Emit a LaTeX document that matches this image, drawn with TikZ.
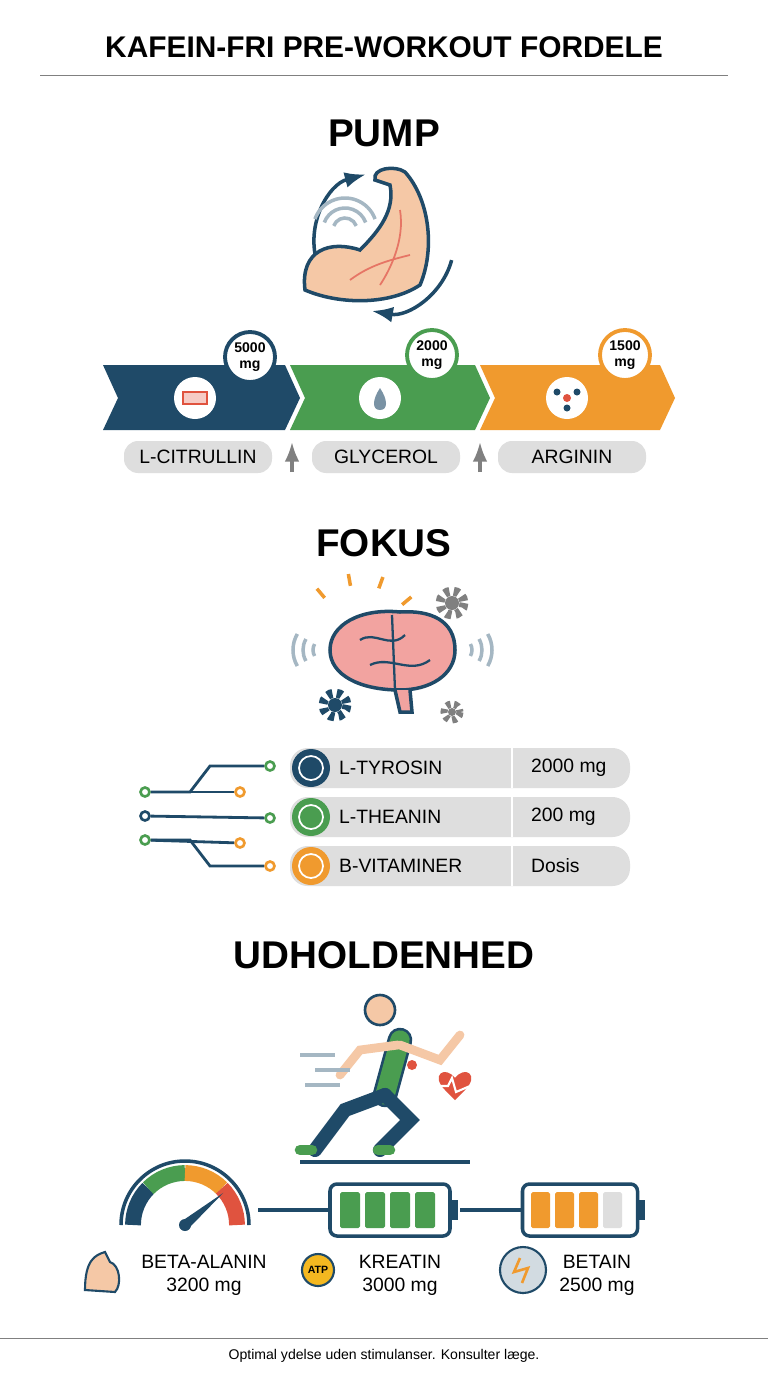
\documentclass[tikz,border=0pt]{standalone}
\usepackage{fontspec}
\setmainfont{Liberation Sans}
\usetikzlibrary{positioning,arrows.meta,calc}
\definecolor{navy}{HTML}{1F4A68}
\definecolor{leaf}{HTML}{4A9D50}
\definecolor{amber}{HTML}{F09A2E}
\definecolor{pill}{HTML}{DEDEDE}
\definecolor{skin}{HTML}{F5C8A6}
\definecolor{brainpink}{HTML}{F2A3A0}
\definecolor{alert}{HTML}{E0533F}
\newcommand{\px}{*0.02cm}
\tikzset{
  heading/.style = {font=\bfseries\fontsize{22}{24}\selectfont},
  tag/.style = {fill=pill, rounded corners=8pt, minimum width=148\px, minimum height=32\px, font=\fontsize{11}{12}\selectfont},
  badge/.style = {circle, draw=#1, line width=2.2pt, fill=white, minimum size=50\px, align=center, inner sep=0pt, font=\bfseries\fontsize{8}{9}\selectfont},
  dot/.style = {circle, draw=#1, line width=1.5pt, fill=white, minimum size=9\px, inner sep=0pt},
  wire/.style = {navy, line width=1.6pt},
  cell/.style = {fill=#1, rounded corners=1pt},
  >=Latex
}
\begin{document}
\begin{tikzpicture}[x=0.02cm,y=-0.02cm]
  \useasboundingbox[fill=white] (0,0) rectangle (768,1376);
  % title
  \node[font=\bfseries\fontsize{17}{19}\selectfont] (title) at (384,47) {KAFEIN-FRI PRE-WORKOUT FORDELE};
  \draw[gray] (40,75) -- (728,75);
  % pump
  \node[heading] (pump) at (384,133) {PUMP};
  \draw[navy,line width=2pt,->] (384,242) ++(-195:70) arc (-195:-105:70);
  \draw[navy,line width=2pt,->] (384,242) ++(15:70) arc (15:100:70);
  \foreach \r in {12,22,32} {\draw[navy!40,line width=2pt] (345,230) ++(200:\r) arc (200:340:\r);}
  \draw[navy,line width=2pt,fill=skin] (305,290) .. controls (300,250) and (330,240) .. (360,250)
    .. controls (380,230) and (395,210) .. (390,185) -- (375,180) .. controls (372,168) and (395,165) .. (405,172)
    .. controls (430,200) and (435,250) .. (420,285) .. controls (390,305) and (340,305) .. (305,290) -- cycle;
  \draw[alert!80,line width=1pt] (350,280) .. controls (370,265) and (390,260) .. (410,255) (380,285) .. controls (390,270) and (405,240) .. (400,210);
  % chevrons
  \fill[navy] (103,365) -- (285,365) -- (300,398) -- (285,430) -- (103,430) -- (118,398) -- cycle;
  \fill[leaf] (290,365) -- (475,365) -- (490,398) -- (475,430) -- (290,430) -- (305,398) -- cycle;
  \fill[amber] (480,365) -- (660,365) -- (675,398) -- (660,430) -- (480,430) -- (495,398) -- cycle;
  \node[circle,fill=white,minimum size=42\px] (ic1) at (195,398) {};
  \node[circle,fill=white,minimum size=42\px] (ic2) at (380,398) {};
  \node[circle,fill=white,minimum size=42\px] (ic3) at (567,398) {};
  \draw[alert,line width=1.2pt,fill=alert!30] (183,392) rectangle (207,404);
  \fill[navy!60] (380,388) .. controls (372,400) and (372,410) .. (380,410) .. controls (388,410) and (388,400) .. (380,388);
  \foreach \p in {(557,392),(577,392),(567,408)} {\fill[navy] \p circle (3.5);}
  \fill[alert] (567,398) circle (4);
  \node[badge=navy] (b1) at (250,357) {5000\\mg};
  \node[badge=leaf] (b2) at (432,355) {2000\\mg};
  \node[badge=amber] (b3) at (625,355) {1500\\mg};
  \node[tag] (citrullin) at (198,457) {L-CITRULLIN};
  \node[tag] (glycerol) at (386,457) {GLYCEROL};
  \node[tag] (arginin) at (572,457) {ARGININ};
  \coordinate (up1) at (292,472); \coordinate (up2) at (480,472);
  \draw[gray,line width=1.8pt,->] (up1) -- ++(0,-30);
  \draw[gray,line width=1.8pt,->] (up2) -- ++(0,-30);
  % fokus
  \node[heading] (fokus) at (384,543) {FOKUS};
  \draw[navy,line width=2pt,fill=brainpink] (400,690) .. controls (430,690) and (455,675) .. (455,650)
    .. controls (455,620) and (430,610) .. (400,612) .. controls (360,608) and (330,625) .. (330,650)
    .. controls (330,675) and (360,690) .. (400,690) -- cycle;
  \draw[navy,line width=2pt,fill=brainpink] (395,690) -- (400,712) -- (412,712) -- (410,690);
  \draw[navy,line width=1.3pt] (360,640) .. controls (375,630) and (390,650) .. (405,635) (370,665) .. controls (390,655) and (410,675) .. (430,660) (392,615) -- (395,690);
  \foreach \a in {-40,-70,-100,-130} {\draw[amber,line width=2pt] (360,640) ++(\a:55) -- ++(\a:12);}
  \foreach \r in {12,22,32} {\draw[navy!40,line width=2pt] (325,650) ++(150:\r) arc (150:210:\r); \draw[navy!40,line width=2pt] (460,650) ++(-30:\r) arc (-30:30:\r);}
  \draw[gray,line width=5pt,dash pattern=on 3pt off 2.5pt] (452,603) circle (12); \fill[gray] (452,603) circle (7);
  \draw[navy,line width=5pt,dash pattern=on 3pt off 2.5pt] (335,705) circle (12); \fill[navy] (335,705) circle (7);
  \draw[gray,line width=4pt,dash pattern=on 2.5pt off 2pt] (452,712) circle (8); \fill[gray] (452,712) circle (4);
  % rows
  \foreach \y/\n/\v/\c [count=\i] in {768/L-TYROSIN/2000 mg/navy,817/L-THEANIN/200 mg/leaf,866/B-VITAMINER/Dosis/amber} {
    \fill[pill,rounded corners=10pt] (290,\y-20) rectangle (630,\y+20);
    \draw[white,line width=1.5pt] (512,\y-20) -- (512,\y+20);
    \node[circle,fill=\c,minimum size=38\px] (row\i) at (311,\y) {};
    \draw[white,line width=1pt] (row\i) circle (12);
    \node[anchor=west,font=\fontsize{11}{12}\selectfont] (lab\i) at (333,\y) {\n};
    \node[anchor=west,font=\fontsize{11}{12}\selectfont] (val\i) at (525,\y) {\v};
  }
  \node[dot=leaf] (d1) at (270,766) {};
  \node[dot=amber] (d2) at (240,792) {};
  \node[dot=leaf] (d3) at (270,818) {};
  \node[dot=amber] (d4) at (240,843) {};
  \node[dot=amber] (d5) at (270,866) {};
  \node[dot=leaf] (e1) at (145,792) {};
  \node[dot=navy] (e2) at (145,816) {};
  \node[dot=leaf] (e3) at (145,840) {};
  \draw[wire] (e1) -- (190,792) -- (210,766) -- (d1);
  \draw[wire] (e1) -- (d2);
  \draw[wire] (e2) -- (d3);
  \draw[wire] (e3) -- (d4);
  \draw[wire] (e3) -- (190,840) -- (210,866) -- (d5);
  % udholdenhed
  \node[heading] (udhold) at (384,955) {UDHOLDENHED};
  \fill[skin] (380,1010) circle (15);
  \draw[navy,line width=1.5pt] (380,1010) circle (15);
  \draw[navy,line width=14pt,line cap=round] (400,1040) -- (385,1095);
  \draw[leaf,line width=11pt,line cap=round] (400,1040) -- (385,1095);
  \draw[navy,line width=8pt,line cap=round] (385,1095) -- (345,1110) -- (315,1150);
  \draw[navy,line width=8pt,line cap=round] (385,1095) -- (410,1120) -- (380,1150);
  \draw[skin,line width=5pt,line cap=round] (400,1045) -- (440,1060) -- (460,1035) (398,1045) -- (360,1050) -- (340,1075);
  \fill[alert] (412,1065) circle (5);
  \draw[leaf,line width=6pt,line cap=round] (312,1150) -- (300,1150) (378,1150) -- (390,1150);
  \foreach \y/\a in {1055/300,1070/315,1085/305} {\draw[navy!40,line width=2pt] (\a,\y) -- ++(35,0);}
  \fill[alert] (445,1090) .. controls (430,1075) and (445,1065) .. (455,1078) .. controls (465,1065) and (480,1075) .. (465,1090) -- (455,1100) -- cycle;
  \draw[white,line width=1.2pt] (438,1086) -- (448,1086) -- (452,1078) -- (456,1092) -- (470,1086);
  \draw[navy,line width=2.5pt] (300,1162) -- (470,1162);
  % gauge
  \coordinate (g) at (185,1225);
  \draw[navy,line width=2pt] (g) ++(180:64) arc (180:360:64);
  \foreach \s/\e/\c in {180/225/navy,225/270/leaf,270/315/amber,315/360/alert} {\draw[\c,line width=9pt] (g) ++(\s:52) arc (\s:\e:52);}
  \fill[navy] ($(g)+(-40:50)$) -- ($(g)+(50:5)$) -- ($(g)+(-130:5)$) -- cycle;
  \fill[navy] (g) circle (6);
  % batteries
  \node[draw=navy,line width=2pt,rounded corners=4pt,minimum width=120\px,minimum height=52\px] (bat1) at (390,1210) {};
  \node[draw=navy,line width=2pt,rounded corners=4pt,minimum width=115\px,minimum height=52\px] (bat2) at (580,1210) {};
  \fill[navy] (451,1200) rectangle (458,1220);
  \fill[navy] (638,1200) rectangle (645,1220);
  \foreach \i in {0,...,3} {\fill[cell=leaf] (340+\i*25,1192) rectangle ++(20,36);}
  \foreach \i in {0,1,2} {\fill[cell=amber] (531+\i*24,1192) rectangle ++(19,36);}
  \fill[cell=pill] (603,1192) rectangle ++(19,36);
  \coordinate (gr) at (258,1210);
  \draw[navy,line width=2pt] (gr) -- (bat1);
  \coordinate (br) at (460,1210);
  \draw[navy,line width=2pt] (br) -- (bat2);
  % labels
  \node[align=center,font=\fontsize{11}{13}\selectfont] (beta) at (204,1275) {BETA-ALANIN\\3200 mg};
  \node[align=center,font=\fontsize{11}{13}\selectfont] (kreatin) at (400,1275) {KREATIN\\3000 mg};
  \node[align=center,font=\fontsize{11}{13}\selectfont] (betain) at (597,1275) {BETAIN\\2500 mg};
  \draw[navy,line width=1.2pt,fill=skin] (85,1290) .. controls (85,1260) and (95,1255) .. (105,1252) -- (110,1262) .. controls (120,1265) and (122,1285) .. (115,1292) -- cycle;
  \node[circle,draw=navy,fill=amber!70!yellow,line width=1.2pt,minimum size=32\px,inner sep=0pt,font=\bfseries\fontsize{6}{6}\selectfont] (atp) at (318,1270) {ATP};
  \node[circle,draw=navy,fill=navy!20,line width=1.2pt,minimum size=46\px] (betaicon) at (523,1270) {};
  \draw[amber,line width=1.5pt] (520,1258) -- (514,1272) -- (528,1268) -- (522,1283);
  % footer
  \draw[gray] (0,1338) -- (768,1338);
  \node[font=\fontsize{8}{9}\selectfont] (foot) at (384,1356) {Optimal ydelse uden stimulanser. Konsulter læge.};
\end{tikzpicture}
\end{document}
